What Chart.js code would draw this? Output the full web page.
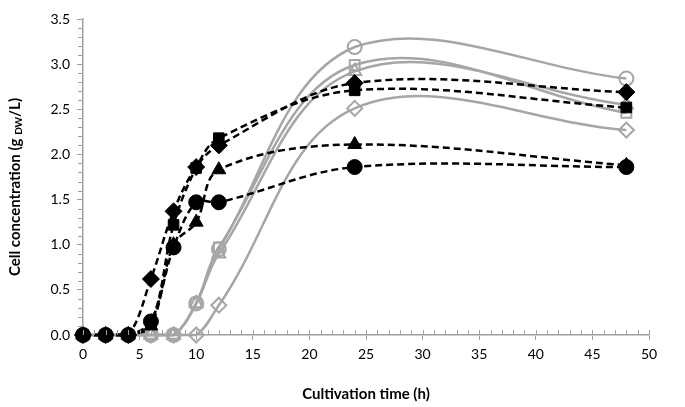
<!DOCTYPE html>
<html>
<head>
<meta charset="utf-8">
<script src="https://cdn.jsdelivr.net/npm/chart.js@4"></script>
<style>
  html, body { margin: 0; padding: 0; background: #fff; }
  #wrap { width: 685px; height: 407px; }
</style>
</head>
<body>
<div id="wrap"><canvas id="chart" width="685" height="407"></canvas></div>
<script>
// sampling times (h)
const times = [0, 2, 4, 6, 8, 10, 12, 24, 48];

// black dashed series, filled markers
const blackDiamond  = [0, 0, 0, 0.62, 1.37, 1.86, 2.10, 2.79, 2.69];
const blackSquare   = [0, 0, 0, 0.12, 1.22, 1.85, 2.18, 2.71, 2.52];
const blackTriangle = [0, 0, 0, 0.10, 1.00, 1.25, 1.83, 2.11, 1.88];
const blackCircle   = [0, 0, 0, 0.15, 0.97, 1.47, 1.47, 1.86, 1.86];

// grey solid series, open markers
const greyCircle    = [0, 0, 0, 0, 0, 0.35, 0.95, 3.19, 2.84];
const greySquare    = [0, 0, 0, 0, 0, 0.35, 0.97, 2.99, 2.46];
const greyTriangle  = [0, 0, 0, 0, 0, 0.35, 0.90, 2.92, 2.55];
const greyDiamond   = [0, 0, 0, 0, 0, 0, 0.33, 2.51, 2.27];

const xTitle = 'Cultivation time (h)';
const FONT = 'Lato, "Open Sans", sans-serif';
const GREY = '#a6a6a6';
const AXIS = '#a0a0a0';

function pts(vals) {
  return times.map((t, i) => ({ x: t, y: vals[i] }));
}

function blackSet(vals, style, r) {
  return {
    data: pts(vals),
    clip: false,
    borderColor: '#000',
    backgroundColor: '#000',
    borderWidth: 2.5,
    borderDash: [7, 4],
    pointStyle: style,
    pointRadius: r,
    pointBorderWidth: 1,
    pointBorderColor: '#000',
    pointBackgroundColor: '#000',
    tension: 0.35
  };
}

function greySet(vals, style, r) {
  return {
    data: pts(vals),
    clip: false,
    borderColor: GREY,
    borderWidth: 2.5,
    pointStyle: style,
    pointRadius: r,
    pointBorderWidth: 2,
    pointBorderColor: GREY,
    pointBackgroundColor: 'rgba(255,255,255,0)',
    tension: 0.37
  };
}

// minor ticks + y title with subscript
const extras = {
  id: 'extras',
  afterDraw(chart) {
    const ctx = chart.ctx;
    const xs = chart.scales.x, ys = chart.scales.y;
    const x0 = xs.getPixelForValue(0), y0 = ys.getPixelForValue(0);
    ctx.save();
    ctx.strokeStyle = AXIS;
    ctx.lineWidth = 1;
    ctx.beginPath();
    for (let v = 1; v < 50; v++) {
      if (v % 5 === 0) continue;
      const px = Math.round(xs.getPixelForValue(v)) + 0.5;
      ctx.moveTo(px, y0);
      ctx.lineTo(px, y0 - 5);
    }
    for (let k = 1; k < 35; k++) {
      if (k % 5 === 0) continue;
      const py = Math.round(ys.getPixelForValue(k / 10)) + 0.5;
      ctx.moveTo(x0, py);
      ctx.lineTo(x0 - 5, py);
    }
    // major x ticks cross the axis
    for (let v = 0; v <= 50; v += 5) {
      const px = Math.round(xs.getPixelForValue(v)) + 0.5;
      ctx.moveTo(px, y0);
      ctx.lineTo(px, y0 - 5);
    }
    ctx.stroke();

    // y title
    ctx.translate(15, 187);
    ctx.rotate(-Math.PI / 2);
    ctx.fillStyle = '#000';
    const main = 'bold 15px ' + FONT;
    const sub = 'bold 10px ' + FONT;
    const parts = [['Cell concentration (g ', main, 0], ['DW', sub, 4], ['/L)', main, 0]];
    let total = 0;
    parts.forEach(p => { ctx.font = p[1]; total += ctx.measureText(p[0]).width; });
    let x = -total / 2;
    ctx.textBaseline = 'middle';
    parts.forEach(p => {
      ctx.font = p[1];
      ctx.fillText(p[0], x, p[2]);
      x += ctx.measureText(p[0]).width;
    });
    ctx.restore();
  }
};

new Chart(document.getElementById('chart'), {
  type: 'line',
  data: {
    datasets: [
      blackSet(blackSquare, 'rect', 7.5),
      blackSet(blackDiamond, 'rectRot', 8.5),
      blackSet(blackTriangle, 'triangle', 8),
      blackSet(blackCircle, 'circle', 7.5),
      greySet(greyDiamond, 'rectRot', 7.5),
      greySet(greyTriangle, 'triangle', 7.5),
      greySet(greySquare, 'rect', 7),
      greySet(greyCircle, 'circle', 7)
    ]
  },
  options: {
    responsive: false,
    animation: false,
    layout: { padding: { top: 19, right: 36, left: 0, bottom: 0 } },
    plugins: { legend: { display: false }, tooltip: { enabled: false } },
    scales: {
      x: {
        type: 'linear',
        min: 0, max: 50,
        afterFit: s => { s.height = 72; },
        border: { display: true, color: AXIS, width: 1.5 },
        grid: { drawOnChartArea: false, drawTicks: true, tickLength: 5, color: AXIS },
        ticks: { stepSize: 5, color: '#000', font: { family: FONT, size: 14 }, padding: 6 },
        title: { display: true, text: xTitle, color: '#000', font: { family: FONT, size: 15, weight: 'bold' }, padding: { top: 18 } }
      },
      y: {
        min: 0, max: 3.5,
        afterFit: s => { s.width = 83; },
        border: { display: true, color: AXIS, width: 1.5 },
        grid: { drawOnChartArea: false, drawTicks: true, tickLength: 6, color: AXIS },
        ticks: { stepSize: 0.5, color: '#000', font: { family: FONT, size: 14 }, padding: 7,
                 callback: v => v.toFixed(1) }
      }
    }
  },
  plugins: [extras]
});
</script>
</body>
</html>
